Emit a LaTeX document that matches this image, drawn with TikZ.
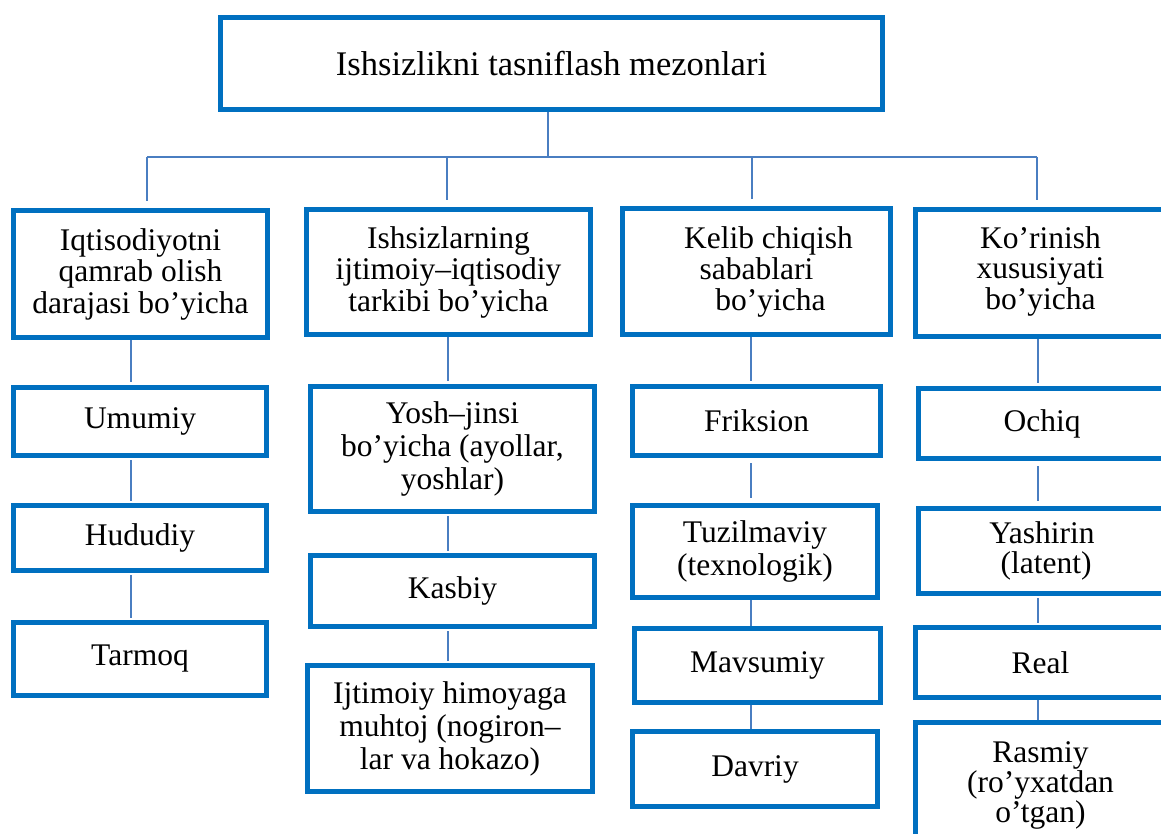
\documentclass[tikz,border=0pt]{standalone}
\usepackage{fontspec}
\setmainfont{Liberation Serif}
\definecolor{boxblue}{RGB}{0,112,192}
\definecolor{linkblue}{RGB}{74,126,193}
% \placebox[options]{name}{x1}{y1}{x2}{y2}{text}: box given by its outer edges
\newcommand\placebox[7][]{%
  \node[box,#1,minimum width={(#5-#3-5)*1pt},minimum height={(#6-#4-5)*1pt}]
    (#2) at ({(#3+#5)/2},{(#4+#6)/2}) {#7};}
% centred lines raised by a given amount inside a box
\newcommand\liftlines[2]{\raisebox{#1}{\begin{tabular}{@{}c@{}}#2\end{tabular}}}
\begin{document}
\begin{tikzpicture}[x=1pt,y=-1pt,
  box/.style={draw=boxblue,line width=5pt,fill=white,inner sep=0pt,outer sep=2.5pt,
    align=center,font=\fontsize{31.5}{32}\selectfont},
  link/.style={draw=linkblue,line width=1.6pt}]
\useasboundingbox (0,0) rectangle (1161,834);
\clip (0,0) rectangle (1161,834);

% root
\placebox[font=\fontsize{34.5}{36}\selectfont]{root}{218}{15}{885}{112}{Ishsizlikni tasniflash mezonlari}

% criteria
\placebox[font=\fontsize{31.5}{31.5}\selectfont]{ka}{11}{208}{270}{340}{Iqtisodiyotni\\qamrab olish\\darajasi bo’yicha}
\placebox[font=\fontsize{31.5}{31.5}\selectfont]{kb}{304}{207}{593}{337}{Ishsizlarning\\ijtimoiy–iqtisodiy\\tarkibi bo’yicha}
\placebox[font=\fontsize{31.5}{31}\selectfont]{kc}{620}{206}{893}{337}{\hspace*{24pt}Kelib chiqish\\sabablari\\\hspace*{28pt}bo’yicha}
\placebox[font=\fontsize{31.5}{30}\selectfont]{kd}{913}{207}{1168}{339}{\liftlines{3pt}{Ko’rinish\\xususiyati\\bo’yicha}}

% first column
\placebox{a1}{11}{385}{269}{458}{Umumiy}
\placebox{a2}{11}{503}{269}{573}{Hududiy}
\placebox{a3}{11}{620}{269}{698}{Tarmoq}

% second column
\placebox[font=\fontsize{31.5}{33}\selectfont]{b1}{308}{384}{597}{514}{Yosh–jinsi\\bo’yicha (ayollar,\\yoshlar)}
\placebox{b2}{308}{553}{597}{629}{Kasbiy}
\placebox[font=\fontsize{31.5}{33}\selectfont]{b3}{305}{663}{595}{794}{Ijtimoiy himoyaga\\muhtoj (nogiron–\\lar va hokazo)}

% third column
\placebox{c1}{630}{384}{883}{458}{Friksion}
\placebox[font=\fontsize{31.5}{33}\selectfont]{c2}{630}{503}{880}{600}{Tuzilmaviy\\(texnologik)}
\placebox{c3}{632}{626}{883}{705}{Mavsumiy}
\placebox{c4}{630}{729}{880}{809}{Davriy}

% fourth column
\placebox{d1}{916}{386}{1168}{461}{Ochiq}
\placebox[font=\fontsize{31.5}{30}\selectfont]{d2}{916}{506}{1168}{596}{Yashirin\\\hspace*{8pt}(latent)}
\placebox{d3}{913}{625}{1168}{700}{Real}
\placebox[font=\fontsize{31.5}{30}\selectfont]{d4}{913}{720}{1168}{850}{Rasmiy\\(ro’yxatdan\\o’tgan)}

% connector positions
\coordinate (bus) at (0,157);
\coordinate (xt) at (548,0);
\coordinate (xa) at (147,0);
\coordinate (xb) at (447,0);
\coordinate (xc) at (752,0);
\coordinate (xd) at (1037,0);
\coordinate (ya) at (131,0);
\coordinate (yb) at (448,0);
\coordinate (yc) at (751,0);
\coordinate (yd) at (1038,0);

% root to criteria
\draw[link] (root.south -| xt) -- (bus -| xt);
\draw[link] (bus -| xa) -- (bus -| xd);
\foreach \k/\x in {ka/xa,kb/xb,kc/xc,kd/xd}
  \draw[link,shorten >=7pt] (bus -| \x) -- (\k.north -| \x);

% criteria to kinds
\draw[link,shorten >=3pt] (ka.south -| ya) -- (a1.north -| ya);
\draw[link,shorten <=2pt,shorten >=2pt] (a1.south -| ya) -- (a2.north -| ya);
\draw[link,shorten <=2pt,shorten >=2pt] (a2.south -| ya) -- (a3.north -| ya);

\draw[link,shorten >=3pt] (kb.south -| yb) -- (b1.north -| yb);
\draw[link,shorten <=2pt,shorten >=2pt] (b1.south -| yb) -- (b2.north -| yb);
\draw[link,shorten <=2pt,shorten >=2pt] (b2.south -| yb) -- (b3.north -| yb);

\draw[link,shorten >=3pt] (kc.south -| yc) -- (c1.north -| yc);
\draw[link,shorten <=5pt,shorten >=5pt] (c1.south -| yc) -- (c2.north -| yc);
\draw[link] (c2.south -| yc) -- (c3.north -| yc);
\draw[link] (c3.south -| yc) -- (c4.north -| yc);

\draw[link,shorten >=3pt] (kd.south -| yd) -- (d1.north -| yd);
\draw[link,shorten <=5pt,shorten >=5pt] (d1.south -| yd) -- (d2.north -| yd);
\draw[link,shorten <=2pt,shorten >=2pt] (d2.south -| yd) -- (d3.north -| yd);
\draw[link] (d3.south -| yd) -- (d4.north -| yd);
\end{tikzpicture}
\end{document}
